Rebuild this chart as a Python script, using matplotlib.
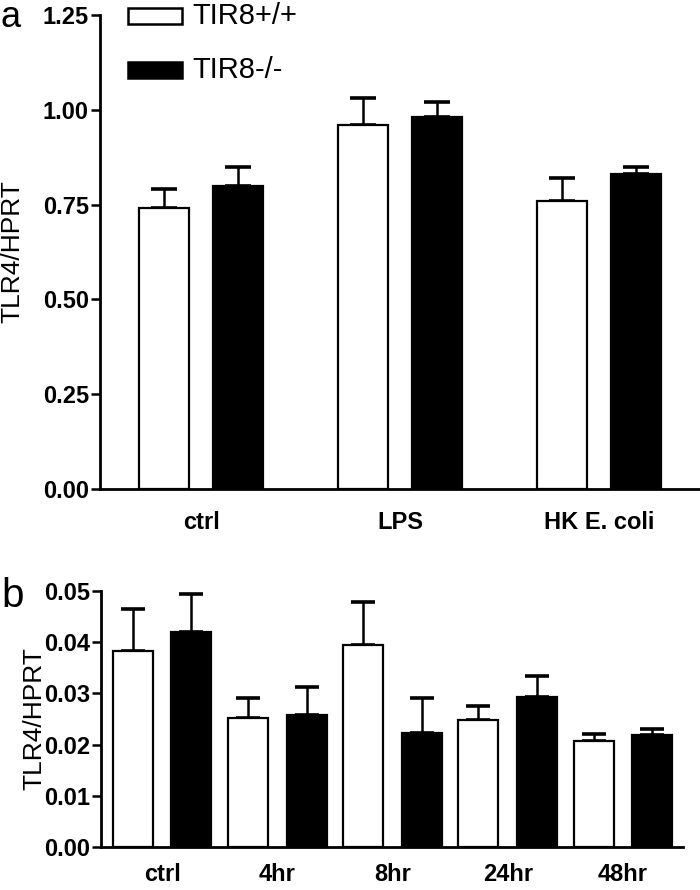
import matplotlib
matplotlib.use("Agg")
import matplotlib.pyplot as plt
from matplotlib.patches import Rectangle
import numpy as np

# ---- data ----
cats_a = ["ctrl", "LPS", "HK E. coli"]
wt_a = [0.74, 0.96, 0.76]
wt_a_err = [0.05, 0.07, 0.06]
ko_a = [0.80, 0.98, 0.83]
ko_a_err = [0.05, 0.04, 0.02]

cats_b = ["ctrl", "4hr", "8hr", "24hr", "48hr"]
wt_b = [0.0382, 0.0252, 0.0395, 0.0248, 0.0208]
wt_b_err = [0.0082, 0.0039, 0.0082, 0.0027, 0.0013]
ko_b = [0.0420, 0.0258, 0.0222, 0.0293, 0.0219]
ko_b_err = [0.0073, 0.0055, 0.0069, 0.0041, 0.0011]

legend_labels = ["TIR8+/+", "TIR8-/-"]
yticks_a = [0.00, 0.25, 0.50, 0.75, 1.00, 1.25]
yticks_b = [0.00, 0.01, 0.02, 0.03, 0.04, 0.05]
ylabel = "TLR4/HPRT"

plt.rcParams['font.family'] = ['Liberation Sans', 'DejaVu Sans']

W, H = 700, 890
fig = plt.figure(figsize=(W / 100, H / 100), dpi=100)

def panel(ax, cats, wt, wte, ko, koe, off, width, capsize, yticks, fmt, xpad):
    x = np.arange(len(cats))
    lw = 1.6
    ax.bar(x - off, wt, width, color="white", edgecolor="black", linewidth=lw, zorder=3)
    ax.bar(x + off, ko, width, color="black", edgecolor="black", linewidth=lw, zorder=3)
    ax.errorbar(x - off, wt, yerr=[np.zeros(len(wt)), wte], fmt="none", ecolor="black",
                elinewidth=1.8, capsize=capsize, capthick=2.6, zorder=2)
    ax.errorbar(x + off, ko, yerr=[np.zeros(len(ko)), koe], fmt="none", ecolor="black",
                elinewidth=1.8, capsize=capsize, capthick=2.6, zorder=2)
    ax.spines['top'].set_visible(False)
    ax.spines['right'].set_visible(False)
    ax.spines['left'].set_linewidth(2.0)
    ax.spines['bottom'].set_linewidth(2.0)
    ax.set_xticks(x)
    ax.set_xticklabels(cats, fontsize=17, fontweight="bold")
    ax.tick_params(axis="x", length=0, pad=xpad)
    ax.set_yticks(yticks)
    ax.set_yticklabels([fmt.format(v) for v in yticks], fontsize=17, fontweight="bold")
    ax.tick_params(axis="y", length=6.5, width=1.8, pad=1.5)
    ax.set_ylim(yticks[0], yticks[-1])
    return x

ax1 = fig.add_axes([0.1429, 0.4506, 0.8557, 0.5325])
panel(ax1, cats_a, wt_a, wt_a_err, ko_a, ko_a_err, 0.185, 0.252, 9.7, yticks_a, "{:.2f}", 16)
ax1.set_xlim(-0.508, 2.503)
ax1.set_ylabel(ylabel, fontsize=19)
ax1.yaxis.set_label_coords((24 - 100) / 599, 0.5)

ax2 = fig.add_axes([0.1443, 0.048, 0.8314, 0.2883])
panel(ax2, cats_b, wt_b, wt_b_err, ko_b, ko_b_err, 0.255, 0.347, 8.3, yticks_b, "{:.2f}", 11.5)
ax2.set_xlim(-0.53, 4.52)
ax2.set_ylabel(ylabel, fontsize=19)
ax2.yaxis.set_label_coords((46 - 101) / 582, 0.5)

# legend (drawn in figure pixel coordinates)
def fx(px):
    return px / W

def fy(py):
    return 1 - py / H

for (top, face, lab) in [(8, "white", legend_labels[0]), (62, "black", legend_labels[1])]:
    fig.add_artist(Rectangle((fx(128), fy(top + 16)), fx(182) - fx(128), 16 / H,
                             facecolor=face, edgecolor="black", linewidth=1.8,
                             transform=fig.transFigure))
    fig.text(fx(192), fy(top + 8), lab, fontsize=21, va="center", ha="left")

fig.text(fx(1), fy(27), "a", fontsize=26, va="baseline", ha="left")
fig.text(fx(1), fy(607), "b", fontsize=29, va="baseline", ha="left")

fig.savefig("out.png", dpi=100)
